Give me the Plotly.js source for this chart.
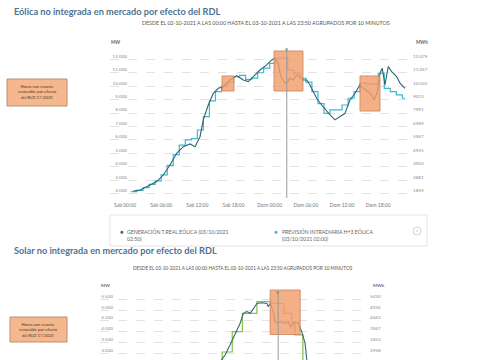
<!DOCTYPE html>
<html><head><meta charset="utf-8">
<script src="https://cdn.plot.ly/plotly-3.0.1.min.js"></script>
<style>html,body{margin:0;padding:0;background:#fff}#chart{width:485px;height:360px}</style>
</head><body><div id="chart"></div>
<script>
// ---------- Eólica (hours since 02-10-2021 00:00) ----------
const windRealHours = [1.38,2.49,4.15,5.26,6.35,7.46,8.57,9.67,10.78,11.61,12.44,12.98,13.81,14.64,15.47,16.30,17.41,18.52,19.62,20.45,21.28,22.39,23.50,24.33,24.88,25.42,25.82,26.53,27.0,27.36,27.91,28.47,29.02,29.57,30.13,30.68,31.23,31.79,32.62,33.45,34.0,34.83,35.66,36.48,37.31,38.14,38.97,39.52,40.35,40.91,41.34,41.84,42.29,42.67,43.12,43.66,44.23,45.06,45.61,46.43];
const windRealMW = [2200,2280,2650,2900,3390,4140,5010,5500,5700,5500,6240,7490,8600,9470,9840,9960,10460,10780,10460,10340,10710,11200,11580,11950,12080,11700,10710,10220,10340,10600,10460,10830,10710,10460,10460,10090,9590,9100,8600,8100,7860,7490,7730,7980,8970,9470,10090,9840,9590,9350,8970,9590,10960,11330,10090,11460,11080,10710,10220,9840];
const windForecastHours = [1,2,3,4,5,6,7,8,9,10,11,12,13,14,15,16,17,18,19,20,21,22,23,24,25,26,27,28,29,30,31,32,33,34,35,36,37,38,39,40,41,42,43,44,45,46,46.43];
const windForecastMW = [2150,2250,2450,2700,2950,3400,4100,4900,5620,6000,6100,6740,7730,8900,9600,10000,10300,10700,10800,10500,10600,11000,11350,11700,12100,12080,11200,10960,10590,10300,9600,8700,7980,8230,8230,8600,9100,9590,10220,10150,10150,10960,9840,9590,9350,9100,9100];
const windTickHours = [0,6,12,18,24,30,36,42];
const windTickLabels = ['Sab 00:00','Sab 06:00','Sab 12:00','Sab 18:00','Dom 00:00','Dom 06:00','Dom 12:00','Dom 18:00'];
const windLeftTicks = [2000,3000,4000,5000,6000,7000,8000,9000,10000,11000,12000];
const windLeftLabels = ['2.000','3.000','4.000','5.000','6.000','7.000','8.000','9.000','10.000','11.000','12.000'];
const windRightLabels = ['1859','2881','3903','4925','5947','6969','7991','9013','10.035','11.057','12.079'];
const windCurtailStart = [16.09,24.71,38.97];
const windCurtailEnd = [18.08,29.52,42.29];
const windCurtailLow = [9640,9640,8150];
const windCurtailHigh = [10760,12620,10760];
const windMarkerHour = 26.83;

// ---------- Solar (hours since 03-10-2021 00:00) ----------
const solarRealHours = [10.5,10.86,11.16,11.6,12.05,12.5,12.8,13.1,13.4,13.7,14.0,14.4,14.9,15.0,15.2,15.5,15.6,15.9,16.2,16.5,16.8,17.0,17.4,17.7,18.0,18.3,18.45,18.7];
const solarRealMW = [2450,2690,2920,3380,3850,4390,4850,4930,4850,5080,5310,5340,5310,5160,5310,4850,4460,4420,4460,4390,4460,4230,4460,4390,4000,3460,2690,2300];
const solarForecastHours = [10.0,10.9,11.8,12.7,14.0,15.3,16.4,17.1,17.4,18.1,19.0];
const solarForecastMW = [2400,3060,4000,4850,5390,5310,4850,4420,3850,2400,2400];
const solarLeftTicks = [3000,3500,4000,4500,5000,5500];
const solarLeftLabels = ['3.000','3.500','4.000','4.500','5.000','5.500'];
const solarRightLabels = ['2958','3453','3947','4442','4936','5430'];
const solarCurtailStart = [15.18];
const solarCurtailEnd = [17.86];
const solarCurtailLow = [3870];
const solarCurtailHigh = [5930];
const solarMarkerHour = 15.9;

// ---------- layout helpers ----------
const W = 485, H = 360;
const px = x => x / W;
const py = y => 1 - y / H;
const FONT = 'Lato, "Open Sans", sans-serif';
const gridStyle = {showgrid: true, gridcolor: '#dcdcdc', griddash: 'dash', gridwidth: 0.8, zeroline: false, showline: false, ticks: ''};
const tickFont = {family: FONT, size: 4.6, color: '#8a8a8a'};

const windRange = [1680, 12840];
const solarRange = [2690, 6023];

const traces = [
  {x: windForecastHours, y: windForecastMW, xaxis: 'x', yaxis: 'y', mode: 'lines', line: {color: '#3fb8d1', width: 1.2, shape: 'hv'}, hoverinfo: 'skip'},
  {x: windRealHours, y: windRealMW, xaxis: 'x', yaxis: 'y2', mode: 'lines', line: {color: '#2a6676', width: 1.1}, hoverinfo: 'skip'},
  {x: solarForecastHours, y: solarForecastMW, xaxis: 'x2', yaxis: 'y3', mode: 'lines', line: {color: '#8dbb4c', width: 1.2, shape: 'hv'}, hoverinfo: 'skip'},
  {x: solarRealHours, y: solarRealMW, xaxis: 'x2', yaxis: 'y4', mode: 'lines', line: {color: '#2f6b6a', width: 1.1}, hoverinfo: 'skip'}
];

const shapes = [];
const boxFill = 'rgba(242,158,108,0.82)';
const boxLine = {color: '#c98257', width: 0.8};
windCurtailStart.forEach((s, i) => shapes.push({type: 'rect', xref: 'x', yref: 'y', x0: s, x1: windCurtailEnd[i], y0: windCurtailLow[i], y1: windCurtailHigh[i], fillcolor: boxFill, line: boxLine, layer: 'above'}));
solarCurtailStart.forEach((s, i) => shapes.push({type: 'rect', xref: 'x2', yref: 'y3', x0: s, x1: solarCurtailEnd[i], y0: solarCurtailLow[i], y1: solarCurtailHigh[i], fillcolor: boxFill, line: boxLine, layer: 'above'}));
shapes.push({type: 'line', xref: 'x', yref: 'paper', x0: windMarkerHour, x1: windMarkerHour, y0: py(198), y1: py(50), line: {color: '#9a9a9a', width: 1}, layer: 'above'});
shapes.push({type: 'line', xref: 'x2', yref: 'paper', x0: solarMarkerHour, x1: solarMarkerHour, y0: 0, y1: py(292), line: {color: '#9a9a9a', width: 1}, layer: 'above'});
// label boxes
shapes.push({type: 'rect', xref: 'paper', yref: 'paper', x0: px(7), x1: px(67), y0: py(106), y1: py(79), fillcolor: '#f5b88e', line: {color: '#b98e72', width: 1}});
shapes.push({type: 'rect', xref: 'paper', yref: 'paper', x0: px(10), x1: px(67), y0: py(342), y1: py(317), fillcolor: '#f5b88e', line: {color: '#b98e72', width: 1}});
// legend box
shapes.push({type: 'rect', xref: 'paper', yref: 'paper', x0: px(110), x1: px(427), y0: py(246), y1: py(215), fillcolor: 'rgba(0,0,0,0)', line: {color: '#e4e4e4', width: 1}, layer: 'below'});
shapes.push({type: 'circle', xref: 'paper', yref: 'paper', x0: px(413), x1: px(421), y0: py(235), y1: py(227), line: {color: '#c8c8c8', width: 0.8}});

const ann = (x, y, text, opts) => Object.assign({xref: 'paper', yref: 'paper', x: px(x), y: py(y), text: text, showarrow: false, xanchor: 'left', yanchor: 'middle', font: {family: FONT, size: 5, color: '#666'}}, opts || {});

const titleFont = {family: FONT, size: 9.2, color: '#4f7393', weight: 'bold'};
const subFont = {family: FONT, size: 5.3, color: '#555'};
const labelBoxFont = {family: FONT, size: 4.2, color: '#4a3426'};
const annotations = [
  ann(12, 12, 'Eólica no integrada en mercado por efecto del RDL', {font: titleFont}),
  ann(265.5, 23, 'DESDE EL 02-10-2021 A LAS 00:00 HASTA EL 03-10-2021 A LAS 23:50 AGRUPADOS POR 10 MINUTOS', {xanchor: 'center', font: subFont}),
  ann(109, 42, 'MW', {font: {family: FONT, size: 4.6, color: '#666', weight: 'bold'}}),
  ann(414, 42, 'MWh', {font: {family: FONT, size: 4.6, color: '#666', weight: 'bold'}}),
  ann(37, 92.5, 'Horas con recorte<br>renovable por efecto<br>del RLD 17/2021', {xanchor: 'center', align: 'center', font: labelBoxFont}),
  ann(121.5, 231, '●', {xanchor: 'center', font: {family: FONT, size: 6, color: '#2e6d86'}}),
  ann(124.5, 235, 'GENERACIÓN T.REAL EÓLICA (03/10/2021<br>02:50)', {align: 'left', font: {family: FONT, size: 5.2, color: '#666'}}),
  ann(276, 231, '●', {xanchor: 'center', font: {family: FONT, size: 6, color: '#3fb8d1'}}),
  ann(279.5, 235, 'PREVISIÓN INTRADIARIA H+3 EÓLICA<br>(03/10/2021 02:00)', {align: 'left', font: {family: FONT, size: 5.2, color: '#666'}}),
  ann(417, 231.5, '⌃', {xanchor: 'center', font: {family: 'DejaVu Sans', size: 5, color: '#999'}}),
  {xref: 'x', yref: 'paper', x: windMarkerHour, y: py(49.5), text: '▼', showarrow: false, xanchor: 'center', yanchor: 'middle', font: {family: 'DejaVu Sans', size: 4, color: '#888'}},
  ann(12, 250.5, 'Solar no integrada en mercado por efecto del RDL', {font: titleFont}),
  ann(242.5, 268, 'DESDE EL 03-10-2021 A LAS 00:00 HASTA EL 03-10-2021 A LAS 23:50 AGRUPADOS POR 10 MINUTOS', {xanchor: 'center', font: {family: FONT, size: 4.7, color: '#555'}}),
  ann(99, 285, 'MW', {font: {family: FONT, size: 4.4, color: '#666', weight: 'bold'}}),
  ann(371, 285, 'MWh', {font: {family: FONT, size: 4.4, color: '#666', weight: 'bold'}}),
  ann(38.3, 329.5, 'Horas con recorte<br>renovable por efecto<br>del RLD 17/2021', {xanchor: 'center', align: 'center', font: labelBoxFont}),
  {xref: 'x2', yref: 'paper', x: solarMarkerHour, y: py(292.5), text: '▼', showarrow: false, xanchor: 'center', yanchor: 'middle', font: {family: 'DejaVu Sans', size: 4, color: '#888'}}
];

const layout = {
  width: W, height: H,
  margin: {l: 0, r: 0, t: 0, b: 0, pad: 0},
  paper_bgcolor: '#fff', plot_bgcolor: 'rgba(0,0,0,0)',
  showlegend: false,
  font: {family: FONT},
  xaxis: {domain: [px(110), px(412)], range: [-2.49, 47.6], anchor: 'y', tickmode: 'array', tickvals: windTickHours, ticktext: windTickLabels, tickfont: {family: FONT, size: 5, color: '#777'}, ticklabelstandoff: 3, ticklabeloverflow: 'allow', showgrid: false, zeroline: false, showline: false, ticks: ''},
  yaxis: Object.assign({domain: [py(198), py(48)], range: windRange, anchor: 'free', position: px(127), side: 'left', tickmode: 'array', tickvals: windLeftTicks, ticktext: windLeftLabels, tickfont: tickFont, ticklabelposition: 'outside top'}, gridStyle),
  yaxis2: {overlaying: 'y', side: 'right', anchor: 'x', range: windRange, tickmode: 'array', tickvals: windLeftTicks, ticktext: windRightLabels, tickfont: tickFont, ticklabelposition: 'outside top', showgrid: false, zeroline: false, showline: false, ticks: ''},
  xaxis2: {domain: [px(100), px(369)], range: [0, 24], anchor: 'y3', showticklabels: false, showgrid: false, zeroline: false, showline: false, ticks: ''},
  yaxis3: Object.assign({domain: [0, py(288)], range: solarRange, anchor: 'free', position: px(113), side: 'left', tickmode: 'array', tickvals: solarLeftTicks, ticktext: solarLeftLabels, tickfont: tickFont, ticklabelposition: 'outside top'}, gridStyle),
  yaxis4: {overlaying: 'y3', side: 'right', anchor: 'x2', range: solarRange, tickmode: 'array', tickvals: solarLeftTicks, ticktext: solarRightLabels, tickfont: tickFont, ticklabelposition: 'outside top', showgrid: false, zeroline: false, showline: false, ticks: ''},
  shapes: shapes,
  annotations: annotations
};

Plotly.newPlot('chart', traces, layout, {staticPlot: true, displayModeBar: false});
</script>
</body></html>
